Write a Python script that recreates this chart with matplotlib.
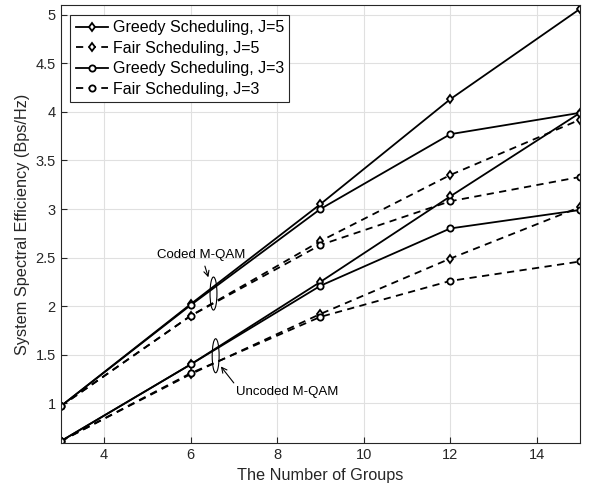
import numpy as np
import matplotlib
matplotlib.use("Agg")
import matplotlib.pyplot as plt
from matplotlib.patches import Ellipse

plt.rcParams['font.family'] = ['Liberation Sans', 'DejaVu Sans']

# ---- Data ----
groups = [3, 6, 9, 12, 15]

# coded M-QAM
greedy_j5_coded = [0.97, 2.02, 3.05, 4.13, 5.06]
fair_j5_coded = [0.97, 1.90, 2.67, 3.35, 3.92]
greedy_j3_coded = [0.97, 2.01, 3.00, 3.77, 3.99]
fair_j3_coded = [0.97, 1.90, 2.63, 3.08, 3.33]

# uncoded M-QAM
greedy_j5_uncoded = [0.61, 1.40, 2.25, 3.13, 3.99]
fair_j5_uncoded = [0.61, 1.30, 1.92, 2.49, 3.02]
greedy_j3_uncoded = [0.61, 1.40, 2.21, 2.80, 2.99]
fair_j3_uncoded = [0.61, 1.31, 1.89, 2.26, 2.46]

labels = ["Greedy Scheduling, J=5", "Fair Scheduling, J=5",
          "Greedy Scheduling, J=3", "Fair Scheduling, J=3"]

fig = plt.figure(figsize=(5.95, 4.93), dpi=100)
ax = fig.add_axes([0.102, 0.101, 0.873, 0.889])

series = [
    (greedy_j5_coded, greedy_j5_uncoded, '-', 'd', labels[0]),
    (fair_j5_coded, fair_j5_uncoded, '--', 'd', labels[1]),
    (greedy_j3_coded, greedy_j3_uncoded, '-', 'o', labels[2]),
    (fair_j3_coded, fair_j3_uncoded, '--', 'o', labels[3]),
]
for coded, uncoded, ls, mk, lab in series:
    kw = dict(color='black', linestyle=ls, marker=mk, markersize=4.5,
              markerfacecolor='white', markeredgewidth=1.3, linewidth=1.3)
    if ls == '--':
        kw['dashes'] = (4, 3)
    ax.plot(groups, coded, label=lab, **kw)
    ax.plot(groups, uncoded, **kw)

# ---- Annotations ----
ax.add_patch(Ellipse((6.53, 2.13), 0.16, 0.34, fill=False, color='black', linewidth=0.8))
ax.add_patch(Ellipse((6.58, 1.49), 0.16, 0.35, fill=False, color='black', linewidth=0.8))
ax.annotate("Coded M-QAM", xy=(6.43, 2.27), xytext=(6.25, 2.53),
            ha='center', va='center', fontsize=9.5,
            arrowprops=dict(arrowstyle='->', color='black', lw=0.8))
ax.annotate("Uncoded M-QAM", xy=(6.7, 1.38), xytext=(7.05, 1.12),
            ha='left', va='center', fontsize=9.5,
            arrowprops=dict(arrowstyle='->', color='black', lw=0.8,
                            shrinkA=0, shrinkB=0,
                            relpos=(0.0, 1.0)))

ax.set_xlim(3, 15)
ax.set_ylim(0.59, 5.1)
ax.set_xticks([4, 6, 8, 10, 12, 14])
ax.set_yticks([1, 1.5, 2, 2.5, 3, 3.5, 4, 4.5, 5])
ax.set_yticklabels(['1', '1.5', '2', '2.5', '3', '3.5', '4', '4.5', '5'])
ax.grid(True, color='#e0e0e0', linewidth=0.8)
ax.set_axisbelow(True)
ax.tick_params(direction='in', labelsize=10.5, colors='#262626', length=4)
for sp in ax.spines.values():
    sp.set_color('#262626')
    sp.set_linewidth(0.8)
ax.set_xlabel("The Number of Groups", fontsize=11.7, color='#262626')
ax.set_ylabel("System Spectral Efficiency (Bps/Hz)", fontsize=11.7, color='#262626')

leg = ax.legend(loc='upper left', fontsize=11.5, fancybox=False, framealpha=1,
                edgecolor='#262626', handlelength=2.0, handletextpad=0.3,
                borderpad=0.35, labelspacing=0.35, borderaxespad=0.6)
leg.get_frame().set_linewidth(0.8)

fig.savefig("out.png", dpi=100)
